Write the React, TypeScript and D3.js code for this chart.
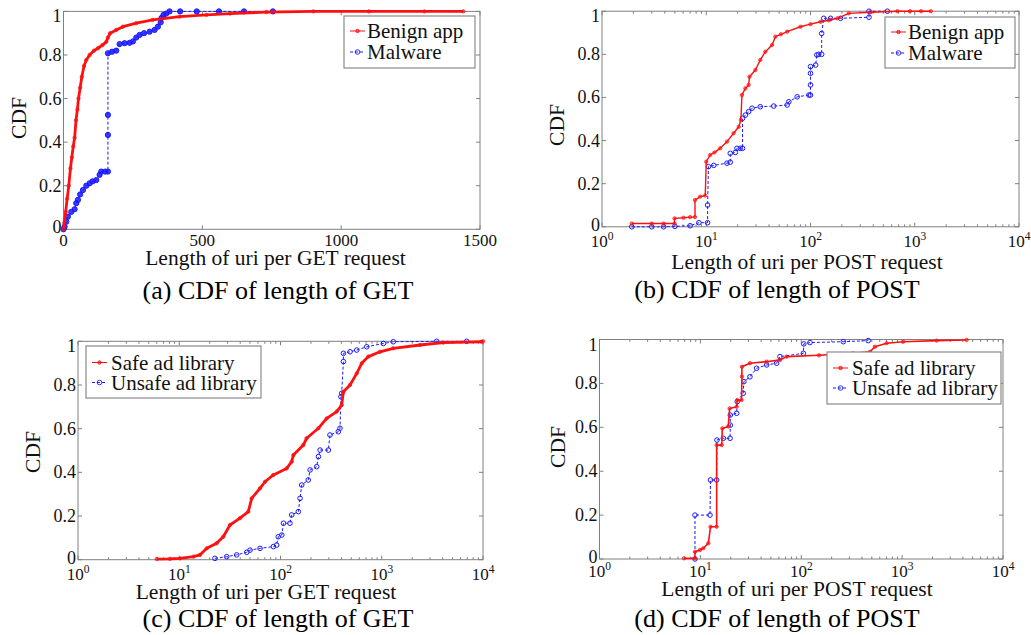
import React, { useEffect, useRef } from 'react';
import * as d3 from 'd3';

type Pt = [number, number];

// (a) length of uri per GET request, linear axis
const getBenign: Pt[] = [
  [0, 0], [3, 0.03], [8, 0.08], [13, 0.14], [19, 0.2], [25, 0.28], [30, 0.33], [35, 0.38], [40, 0.42],
  [45, 0.5], [50, 0.55], [54, 0.6], [60, 0.65], [66, 0.7], [74, 0.75], [82, 0.777], [94, 0.8], [110, 0.82],
  [124, 0.831], [140, 0.845], [154, 0.86], [160, 0.88], [168, 0.9], [190, 0.915], [214, 0.93], [262, 0.946],
  [321, 0.961], [418, 0.976], [515, 0.984], [600, 0.99], [731, 0.997], [900, 1], [1100, 1], [1300, 1], [1440, 1],
];
const getMalware: Pt[] = [
  [0, 0], [4, 0.012], [10, 0.035], [16, 0.058], [28, 0.08], [40, 0.092], [46, 0.12], [52, 0.135], [60, 0.16],
  [70, 0.18], [82, 0.2], [94, 0.211], [105, 0.22], [118, 0.226], [130, 0.25], [136, 0.265], [150, 0.265],
  [160, 0.265], [160, 0.433], [160, 0.525], [160, 0.808], [175, 0.815], [190, 0.82], [202, 0.85], [220, 0.854],
  [238, 0.856], [250, 0.862], [262, 0.88], [274, 0.892], [290, 0.9], [310, 0.907], [328, 0.915], [340, 0.93],
  [350, 0.95], [353, 0.97], [360, 0.984], [370, 0.99], [382, 1], [420, 1], [480, 1], [560, 1], [650, 1], [754, 1],
];

// (b) length of uri per POST request, log axis
const postBenign: Pt[] = [
  [1.93, 0.015], [3.0, 0.015], [3.9, 0.015], [4.96, 0.015], [4.96, 0.039], [6.05, 0.042], [7.0, 0.045],
  [7.8, 0.045], [7.8, 0.124], [8.75, 0.14], [9.78, 0.145], [10, 0.302], [10.9, 0.333], [12, 0.345],
  [13.6, 0.364], [15.8, 0.395], [18.3, 0.434], [20.5, 0.464], [21.5, 0.495], [22, 0.611], [23.7, 0.642],
  [25.5, 0.658], [26, 0.696], [29.6, 0.727], [33, 0.774], [36.9, 0.812], [42.8, 0.843], [46, 0.882],
  [52, 0.893], [59.7, 0.905], [80, 0.928], [100, 0.94], [125, 0.951], [150, 0.958], [181, 0.967],
  [233, 0.99], [378, 0.995], [682, 1], [900, 1], [1150, 1], [1426, 1],
];
const postMalware: Pt[] = [
  [1.93, 0], [3.0, 0], [3.9, 0], [5, 0.002], [7, 0.005], [8.5, 0.019], [10.3, 0.019], [10.3, 0.101],
  [10.5, 0.279], [11.8, 0.285], [15.8, 0.295], [17, 0.3], [17, 0.341], [19, 0.345], [19.7, 0.364],
  [21.2, 0.364], [22.3, 0.364], [22.3, 0.503], [23.7, 0.518], [25.5, 0.534], [27.5, 0.55], [33, 0.557],
  [44.4, 0.56], [59.7, 0.565], [62, 0.58], [74.5, 0.603], [96.4, 0.611], [100, 0.611], [100, 0.658],
  [100, 0.712], [100, 0.743], [112, 0.75], [115, 0.797], [120, 0.8], [128, 0.8], [128, 0.897], [134, 0.967],
  [156, 0.967], [194, 0.967], [364, 0.972], [364, 1], [546, 1],
];

// (c) GET, ad libraries
const getSafeLib: Pt[] = [
  [6, 0.003], [8.1, 0.004], [10.2, 0.006], [13.8, 0.014], [16, 0.022], [18.7, 0.052], [23.4, 0.075],
  [27.2, 0.105], [31.7, 0.159], [39.8, 0.19], [48.1, 0.22], [51.9, 0.281], [62.8, 0.327], [70.3, 0.357],
  [85, 0.388], [115, 0.418], [129, 0.449], [134, 0.479], [168, 0.525], [181, 0.556], [237, 0.602],
  [286, 0.647], [359, 0.678], [402, 0.708], [418, 0.769], [486, 0.8], [566, 0.853], [634, 0.899],
  [738, 0.93], [961, 0.952], [1300, 0.968], [2390, 0.983], [4060, 0.994], [9700, 0.998], [10000, 1],
];
const getUnsafeLib: Pt[] = [
  [22.5, 0.006], [29.4, 0.014], [36.9, 0.022], [46.4, 0.034], [50, 0.044], [62.8, 0.052], [85, 0.06],
  [91.7, 0.067], [95, 0.105], [103, 0.113], [107, 0.167], [124, 0.167], [129, 0.205], [150, 0.22],
  [156, 0.281], [162, 0.342], [188, 0.365], [196, 0.411], [228, 0.426], [237, 0.472], [246, 0.502],
  [297, 0.502], [308, 0.571], [372, 0.586], [387, 0.602], [395, 0.746], [402, 0.762], [418, 0.907],
  [418, 0.945], [486, 0.952], [566, 0.96], [711, 0.975], [1037, 0.99], [1300, 0.998], [3490, 1], [6900, 1],
];

// (d) POST, ad libraries
const postSafeLib: Pt[] = [
  [6.88, 0.003], [8.84, 0.003], [8.84, 0.033], [9.9, 0.041], [10.7, 0.049], [12, 0.072], [12.6, 0.147],
  [14.5, 0.147], [14.5, 0.519], [16.3, 0.519], [16.5, 0.595], [18.9, 0.604], [19.5, 0.686], [22.9, 0.694],
  [23.2, 0.724], [25.6, 0.724], [25.8, 0.831], [25.8, 0.876], [31, 0.892], [45.4, 0.899], [61.5, 0.907],
  [71.7, 0.922], [150, 0.928], [327, 0.937], [480, 0.944], [537, 0.967], [702, 0.983], [1025, 0.99],
  [2197, 0.995], [4360, 0.998],
];
const postUnsafeLib: Pt[] = [
  [8.84, 0], [8.84, 0.2], [12.45, 0.2], [12.6, 0.36], [14.5, 0.36], [14.6, 0.542], [16.9, 0.55],
  [19.7, 0.55], [19.8, 0.61], [19.8, 0.656], [22.9, 0.664], [23.2, 0.717], [26.6, 0.755], [27, 0.808],
  [31, 0.83], [36.1, 0.869], [45.4, 0.884], [57, 0.892], [61.5, 0.922], [105, 0.937], [106, 0.98],
  [122, 0.986], [261, 0.99], [461, 0.995],
];

const yTicks = [0, 0.2, 0.4, 0.6, 0.8, 1];
const yTickLabels = ['0', '0.2', '0.4', '0.6', '0.8', '1'];
const linTicks = [0, 500, 1000, 1500];
const logTicks = [1, 10, 100, 1000, 10000];
const logExps = ['0', '1', '2', '3', '4'];

const RED = '#ff1010';
const BLUE = '#1a1aff';
const FONT = '"Liberation Serif", "Times New Roman", serif';

const panels = [
  {
    left: 63.5, right: 480, top: 11.4, bottom: 229.3, log: false, domain: [0, 1500], tickDy: 11,
    red: getBenign, blue: getMalware, redW: 2.8, blueFill: true, names: ['Benign app', 'Malware'],
    legend: { x: 344, y: 16, w: 131, h: 52, tx: 23, r1: 15, r2: 36 },
    xlabel: { x: 275.5, y: 258, t: 'Length of uri per GET request' },
    ylabel: { x: 19, y: 118 },
    caption: { x: 278, y: 290, t: '(a) CDF of length of GET' },
  },
  {
    left: 602, right: 1019, top: 11.2, bottom: 226.8, log: true, domain: [1, 10000], tickDy: 20,
    red: postBenign, blue: postMalware, redW: 1.4, blueFill: false, names: ['Benign app', 'Malware'],
    legend: { x: 885, y: 17, w: 130, h: 51, tx: 23, r1: 15, r2: 36 },
    xlabel: { x: 807, y: 262, t: 'Length of uri per POST request' },
    ylabel: { x: 557, y: 125 },
    caption: { x: 777, y: 289, t: '(b) CDF of length of POST' },
  },
  {
    left: 78, right: 483, top: 341.3, bottom: 559.7, log: true, domain: [1, 10000], tickDy: 20,
    red: getSafeLib, blue: getUnsafeLib, redW: 2.8, blueFill: false, names: ['Safe ad library', 'Unsafe ad library'],
    legend: { x: 86, y: 346, w: 175, h: 52, tx: 25, r1: 16.5, r2: 36.5 },
    xlabel: { x: 266, y: 592, t: 'Length of uri per GET request' },
    ylabel: { x: 33, y: 452 },
    caption: { x: 278, y: 618, t: '(c) CDF of length of GET' },
  },
  {
    left: 599.5, right: 1003, top: 339.5, bottom: 559, log: true, domain: [1, 10000], tickDy: 18,
    red: postSafeLib, blue: postUnsafeLib, redW: 1.6, blueFill: false, names: ['Safe ad library', 'Unsafe ad library'],
    legend: { x: 827, y: 352, w: 174, h: 52, tx: 25, r1: 16, r2: 36 },
    xlabel: { x: 797, y: 589, t: 'Length of uri per POST request' },
    ylabel: { x: 558, y: 447 },
    caption: { x: 777, y: 618, t: '(d) CDF of length of POST' },
  },
];

function drawPanel(svg: any, p: any) {
  const x = p.log
    ? d3.scaleLog().domain(p.domain).range([p.left, p.right])
    : d3.scaleLinear().domain(p.domain).range([p.left, p.right]);
  const y = d3.scaleLinear().domain([0, 1]).range([p.bottom, p.top]);
  const g = svg.append('g');
  const frame = '#808080';

  // box
  g.append('rect')
    .attr('x', p.left).attr('y', p.top)
    .attr('width', p.right - p.left).attr('height', p.bottom - p.top)
    .attr('fill', 'white').attr('stroke', frame).attr('stroke-width', 1);

  // y ticks on both sides
  yTicks.forEach((t, i) => {
    const yy = y(t);
    g.append('line').attr('x1', p.left).attr('x2', p.left + 4).attr('y1', yy).attr('y2', yy).attr('stroke', frame);
    g.append('line').attr('x1', p.right).attr('x2', p.right - 4).attr('y1', yy).attr('y2', yy).attr('stroke', frame);
    const off = t === 1 ? 5 : t === 0 ? -2 : 0;
    g.append('text')
      .attr('x', p.left - 2).attr('y', yy + off)
      .attr('text-anchor', 'end').attr('dominant-baseline', 'central')
      .attr('font-family', FONT).attr('font-size', 18).attr('fill', '#111')
      .text(yTickLabels[i]);
  });

  // x ticks
  if (p.log) {
    logTicks.forEach((t, i) => {
      const xx = x(t);
      g.append('line').attr('x1', xx).attr('x2', xx).attr('y1', p.bottom).attr('y2', p.bottom - 4).attr('stroke', frame);
      g.append('line').attr('x1', xx).attr('x2', xx).attr('y1', p.top).attr('y2', p.top + 4).attr('stroke', frame);
      const lab = g.append('text')
        .attr('x', xx).attr('y', p.bottom + p.tickDy)
        .attr('text-anchor', 'middle')
        .attr('font-family', FONT).attr('font-size', 17).attr('fill', '#111');
      lab.append('tspan').text('10');
      lab.append('tspan').attr('dy', -7).attr('font-size', 11.5).text(logExps[i]);
      if (i < logTicks.length - 1) {
        for (let m = 2; m <= 9; m++) {
          const mx = x(t * m);
          g.append('line').attr('x1', mx).attr('x2', mx).attr('y1', p.bottom).attr('y2', p.bottom - 2.5).attr('stroke', frame);
          g.append('line').attr('x1', mx).attr('x2', mx).attr('y1', p.top).attr('y2', p.top + 2.5).attr('stroke', frame);
        }
      }
    });
  } else {
    linTicks.forEach((t) => {
      const xx = x(t);
      g.append('line').attr('x1', xx).attr('x2', xx).attr('y1', p.bottom).attr('y2', p.bottom - 4).attr('stroke', frame);
      g.append('line').attr('x1', xx).attr('x2', xx).attr('y1', p.top).attr('y2', p.top + 4).attr('stroke', frame);
      g.append('text')
        .attr('x', xx).attr('y', p.bottom + p.tickDy)
        .attr('text-anchor', 'middle').attr('dominant-baseline', 'central')
        .attr('font-family', FONT).attr('font-size', 17).attr('fill', '#111')
        .text(String(t));
    });
  }

  const line = d3.line<Pt>().x((d) => x(d[0])).y((d) => y(d[1]));

  // blue dashed series with circle markers
  g.append('path').datum(p.blue)
    .attr('d', line).attr('fill', 'none').attr('stroke', BLUE)
    .attr('stroke-width', 1).attr('stroke-dasharray', '3,2');
  g.selectAll('.bm').data(p.blue).enter().append('circle')
    .attr('cx', (d: Pt) => x(d[0])).attr('cy', (d: Pt) => y(d[1])).attr('r', p.blueFill ? 2.6 : 2.3)
    .attr('fill', p.blueFill ? BLUE : 'none').attr('fill-opacity', 0.85)
    .attr('stroke', BLUE).attr('stroke-width', 1);

  // red solid series with small dots
  g.append('path').datum(p.red)
    .attr('d', line).attr('fill', 'none').attr('stroke', RED)
    .attr('stroke-width', p.redW).attr('stroke-linejoin', 'round');
  g.selectAll('.rm').data(p.red).enter().append('circle')
    .attr('cx', (d: Pt) => x(d[0])).attr('cy', (d: Pt) => y(d[1])).attr('r', 1.7)
    .attr('fill', RED).attr('fill-opacity', 0.5).attr('stroke', RED).attr('stroke-width', 0.7);

  // legend
  const L = p.legend;
  g.append('rect').attr('x', L.x).attr('y', L.y).attr('width', L.w).attr('height', L.h)
    .attr('fill', 'white').attr('stroke', '#8a8a8a').attr('stroke-width', 1.2);
  [[RED, L.r1, p.names[0], false], [BLUE, L.r2, p.names[1], true]].forEach(([c, r, name, dashed]: any) => {
    const yy = L.y + r;
    g.append('line').attr('x1', L.x + 6).attr('x2', L.x + 21).attr('y1', yy).attr('y2', yy)
      .attr('stroke', c).attr('stroke-width', 1).attr('stroke-dasharray', dashed ? '3,2' : null);
    g.append('circle').attr('cx', L.x + 13.5).attr('cy', yy).attr('r', dashed ? 2.3 : 1.7)
      .attr('fill', dashed ? 'none' : c).attr('fill-opacity', 0.5).attr('stroke', c).attr('stroke-width', 0.9);
    g.append('text').attr('x', L.x + L.tx).attr('y', yy)
      .attr('dominant-baseline', 'central')
      .attr('font-family', FONT).attr('font-size', 21).attr('fill', '#111')
      .text(name);
  });

  // axis labels and caption
  g.append('text').attr('x', p.xlabel.x).attr('y', p.xlabel.y)
    .attr('text-anchor', 'middle').attr('dominant-baseline', 'central')
    .attr('font-family', FONT).attr('font-size', 21.5).attr('fill', '#111')
    .text(p.xlabel.t);
  g.append('text')
    .attr('transform', `translate(${p.ylabel.x},${p.ylabel.y}) rotate(-90)`)
    .attr('text-anchor', 'middle').attr('dominant-baseline', 'central')
    .attr('font-family', FONT).attr('font-size', 21.5).attr('fill', '#111')
    .text('CDF');
  g.append('text').attr('x', p.caption.x).attr('y', p.caption.y)
    .attr('text-anchor', 'middle').attr('dominant-baseline', 'central')
    .attr('font-family', FONT).attr('font-size', 26).attr('fill', '#000')
    .text(p.caption.t);
}

export default function App() {
  const ref = useRef<SVGSVGElement>(null);

  useEffect(() => {
    const svg = d3.select(ref.current);
    svg.selectAll('*').remove();
    svg.append('rect').attr('width', 1031).attr('height', 635).attr('fill', 'white');
    panels.forEach((p) => drawPanel(svg, p));
  }, []);

  return (
    <svg
      ref={ref}
      width={1031}
      height={635}
      style={{ position: 'absolute', left: 0, top: 0, display: 'block' }}
    />
  );
}
